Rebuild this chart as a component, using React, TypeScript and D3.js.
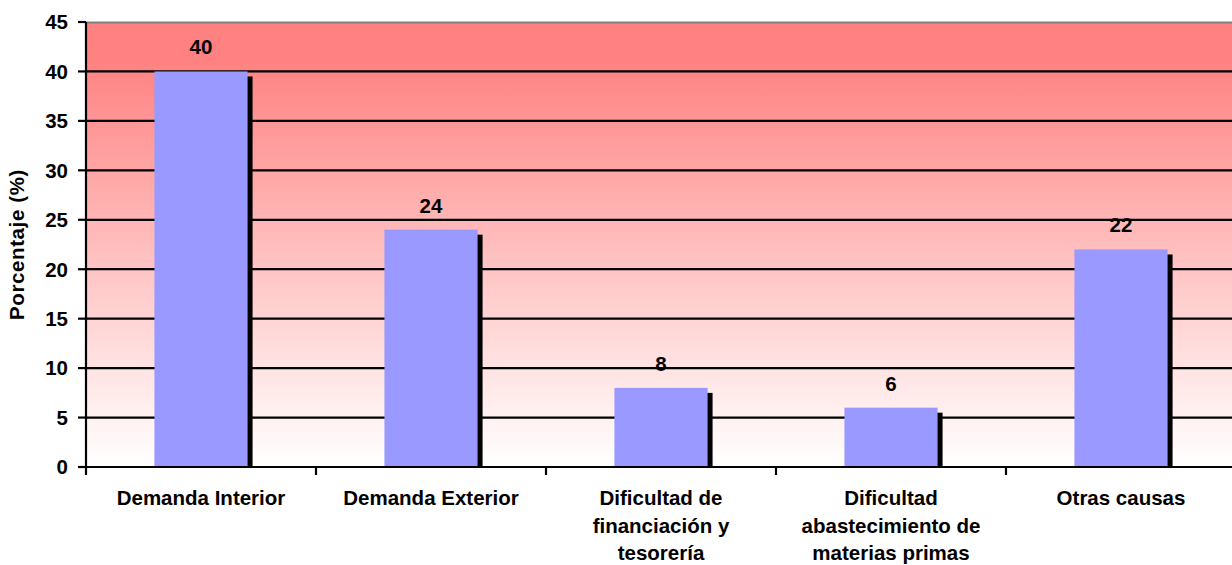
import React from "react";
import * as d3 from "d3";

const categories: string[] = [
  "Demanda Interior",
  "Demanda Exterior",
  "Dificultad de\nfinanciación y\ntesorería",
  "Dificultad\nabastecimiento de\nmaterias primas",
  "Otras causas",
];
const values: number[] = [40, 24, 8, 6, 22];
const yTicks: number[] = [0, 5, 10, 15, 20, 25, 30, 35, 40, 45];
const yTitle = "Porcentaje (%)";

const W = 1232;
const H = 565;
const M = { left: 86, top: 22, bottom: 467, right: 1236 };
const FONT = "'Liberation Sans', Arial, sans-serif";
const FS = 20.5;

export default function App() {
  const x = d3
    .scaleBand<string>()
    .domain(categories)
    .range([M.left, M.right])
    .paddingInner(0.595)
    .paddingOuter(0.2975);
  const y = d3.scaleLinear().domain([0, 45]).range([M.bottom, M.top]);
  const step = x.step();
  const bw = x.bandwidth();
  const sh = 5;

  return (
    <svg
      width={W}
      height={H}
      style={{ position: "absolute", left: 0, top: 0, fontFamily: FONT }}
    >
      <defs>
        <linearGradient id="bg" x1="0" y1="0" x2="0" y2="1">
          <stop offset="0" stopColor="#FF8080" />
          <stop offset="0.08" stopColor="#FF8181" />
          <stop offset="0.5" stopColor="#FFBDBD" />
          <stop offset="0.8" stopColor="#FFE6E6" />
          <stop offset="1" stopColor="#FFFFFF" />
        </linearGradient>
        <clipPath id="plotclip">
          <rect x={M.left} y={M.top} width={M.right - M.left} height={M.bottom - M.top} />
        </clipPath>
      </defs>
      <rect
        x={M.left}
        y={M.top}
        width={M.right - M.left}
        height={M.bottom - M.top}
        fill="url(#bg)"
      />
      <line x1={M.left} x2={M.right} y1={M.top + 0.5} y2={M.top + 0.5} stroke="#808080" strokeWidth={2} />
      {yTicks.slice(1, -1).map((t) => (
        <line key={"g" + t} x1={M.left} x2={M.right} y1={y(t)} y2={y(t)} stroke="#000" strokeWidth={2.2} />
      ))}
      <g clipPath="url(#plotclip)">
        {categories.map((c, i) => {
          const bx = x(c)!;
          const by = y(values[i]);
          return (
            <g key={"b" + i}>
              <rect x={bx + sh} y={by + sh} width={bw} height={M.bottom - by} fill="#000" />
              <rect x={bx} y={by} width={bw} height={M.bottom - by} fill="#9999FF" />
            </g>
          );
        })}
      </g>
      {categories.map((c, i) => (
        <text
          key={"v" + i}
          x={x(c)! + bw / 2}
          y={y(values[i]) - 17}
          textAnchor="middle"
          fontSize={FS}
          fontWeight="bold"
        >
          {values[i]}
        </text>
      ))}
      <line x1={M.left} x2={M.left} y1={M.top} y2={M.bottom + 1} stroke="#000" strokeWidth={2.2} />
      <line x1={M.left - 1} x2={M.right} y1={M.bottom} y2={M.bottom} stroke="#000" strokeWidth={2.2} />
      {yTicks.map((t) => (
        <g key={"t" + t}>
          <line x1={M.left - 8} x2={M.left} y1={y(t)} y2={y(t)} stroke="#000" strokeWidth={2.2} />
          <text
            x={68}
            y={y(t)}
            dy="0.36em"
            textAnchor="end"
            fontSize={FS}
            fontWeight="bold"
          >
            {t}
          </text>
        </g>
      ))}
      {d3.range(categories.length + 1).map((i) => (
        <line
          key={"xt" + i}
          x1={M.left + i * step}
          x2={M.left + i * step}
          y1={M.bottom}
          y2={M.bottom + 8}
          stroke="#000"
          strokeWidth={2.2}
        />
      ))}
      {categories.map((c, i) => (
        <text
          key={"c" + i}
          x={x(c)! + bw / 2}
          y={505}
          textAnchor="middle"
          fontSize={FS}
          fontWeight="bold"
        >
          {c.split("\n").map((ln, j) => (
            <tspan key={j} x={x(c)! + bw / 2} y={505 + j * 27.5}>
              {ln}
            </tspan>
          ))}
        </text>
      ))}
      <text
        transform={`translate(24,${(M.top + M.bottom) / 2}) rotate(-90)`}
        textAnchor="middle"
        fontSize={FS}
        fontWeight="bold"
        letterSpacing={0.6}
      >
        {yTitle}
      </text>
    </svg>
  );
}
